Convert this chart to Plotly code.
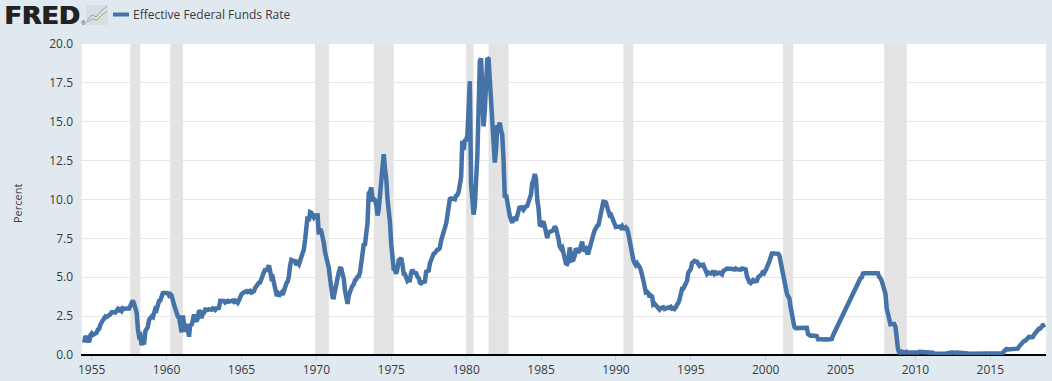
import plotly.graph_objects as go

START_YEAR = 1954
FIRST_MONTH = 7
fed_funds = [
 0.80,1.22,1.07,0.85,0.83,1.28,
 1.39,1.29,1.35,1.43,1.43,1.64,1.68,1.96,2.18,2.24,2.35,2.48,
 2.45,2.50,2.50,2.62,2.75,2.71,2.75,2.73,2.95,2.96,2.88,2.94,
 2.84,3.00,2.96,3.00,3.00,3.00,2.99,3.24,3.47,3.50,3.28,2.98,
 2.72,1.67,1.20,1.26,0.63,0.93,0.68,1.53,1.76,1.80,2.27,2.42,
 2.48,2.43,2.80,2.96,2.90,3.39,3.47,3.50,3.76,3.98,4.00,3.99,
 3.99,3.97,3.84,3.92,3.85,3.32,3.23,2.98,2.60,2.47,2.44,1.98,
 1.45,2.54,2.02,1.49,1.98,1.73,1.17,2.00,1.88,2.26,2.61,2.33,
 2.15,2.37,2.85,2.78,2.36,2.68,2.71,2.93,2.90,2.90,2.94,2.93,
 2.92,3.00,2.98,2.90,3.00,2.99,3.02,3.49,3.48,3.50,3.48,3.38,
 3.48,3.48,3.43,3.47,3.50,3.50,3.42,3.50,3.45,3.36,3.52,3.85,
 3.90,3.98,4.04,4.09,4.10,4.04,4.09,4.12,4.01,4.08,4.10,4.32,
 4.42,4.60,4.65,4.67,4.90,5.17,5.30,5.53,5.40,5.53,5.76,5.40,
 4.94,5.00,4.53,4.05,3.94,3.98,3.79,3.90,4.00,3.88,4.13,4.51,
 4.61,4.71,5.05,5.76,6.11,6.07,6.02,6.03,5.78,5.91,5.82,6.02,
 6.30,6.61,6.79,7.41,8.67,8.90,8.61,9.19,9.15,9.00,8.85,8.97,
 8.98,8.98,7.76,8.10,7.95,7.61,7.21,6.61,6.29,6.20,5.60,4.90,
 4.14,3.72,3.71,4.16,4.63,4.91,5.31,5.56,5.55,5.20,4.91,4.14,
 3.50,3.29,3.83,4.17,4.27,4.46,4.55,4.80,4.87,5.04,5.06,5.33,
 5.94,6.58,7.09,7.12,7.84,8.49,10.40,10.50,10.78,10.01,10.03,9.95,
 9.65,8.97,9.35,10.51,11.31,11.93,12.92,12.01,11.34,10.06,9.45,8.53,
 7.13,6.24,5.54,5.49,5.22,5.55,6.10,6.14,6.24,5.82,5.22,5.20,
 4.87,4.77,4.84,4.82,5.29,5.48,5.31,5.29,5.25,5.03,4.95,4.65,
 4.61,4.68,4.69,4.73,5.35,5.39,5.42,5.90,6.14,6.47,6.51,6.56,
 6.70,6.78,6.79,6.89,7.36,7.60,7.81,8.04,8.45,8.96,9.76,10.03,
 10.07,10.06,10.09,10.01,10.24,10.29,10.47,10.94,11.43,13.77,13.18,13.78,
 13.82,14.13,17.19,17.61,10.98,9.47,9.03,9.61,10.87,12.81,15.85,18.90,
 19.08,15.93,14.70,15.72,18.52,19.10,19.04,17.82,15.87,15.08,13.31,12.37,
 13.22,14.78,14.68,14.94,14.45,14.15,12.59,10.12,10.31,9.71,9.20,8.95,
 8.68,8.51,8.77,8.80,8.63,8.98,9.37,9.56,9.45,9.48,9.34,9.47,
 9.56,9.59,9.91,10.29,10.32,11.06,11.23,11.64,11.30,9.99,9.43,8.38,
 8.35,8.50,8.58,8.27,7.97,7.53,7.88,7.90,7.92,7.99,8.05,8.27,
 8.14,7.86,7.48,6.99,6.85,6.92,6.56,6.17,5.89,5.85,6.04,6.91,
 6.43,6.10,6.13,6.37,6.85,6.73,6.58,6.73,7.22,7.29,6.69,6.77,
 6.83,6.58,6.58,6.87,7.09,7.51,7.75,8.01,8.19,8.30,8.35,8.76,
 9.12,9.36,9.85,9.84,9.81,9.53,9.24,8.99,9.02,8.84,8.55,8.45,
 8.23,8.24,8.28,8.26,8.18,8.29,8.15,8.13,8.20,8.11,7.81,7.31,
 6.91,6.25,6.12,5.91,5.78,5.90,5.82,5.66,5.45,5.21,4.81,4.43,
 4.03,4.06,3.98,3.73,3.82,3.76,3.25,3.30,3.22,3.10,3.09,2.92,
 3.02,3.03,3.07,2.96,3.00,3.04,3.06,3.03,3.09,2.99,3.02,2.96,
 3.05,3.25,3.34,3.56,4.01,4.25,4.26,4.47,4.73,4.76,5.29,5.45,
 5.53,5.92,5.98,6.05,6.01,6.00,5.85,5.74,5.80,5.76,5.80,5.60,
 5.56,5.22,5.31,5.22,5.24,5.27,5.40,5.22,5.30,5.24,5.31,5.29,
 5.25,5.19,5.39,5.51,5.50,5.56,5.52,5.54,5.54,5.50,5.52,5.50,
 5.56,5.51,5.49,5.45,5.49,5.56,5.54,5.55,5.51,5.07,4.83,4.68,
 4.63,4.76,4.81,4.74,4.74,4.76,4.99,5.07,5.22,5.20,5.42,5.30,
 5.45,5.73,5.85,6.02,6.27,6.53,6.54,6.50,6.52,6.51,6.51,6.40,
 5.98,5.49,5.31,4.80,4.21,3.97,3.77,3.65,3.07,2.49,2.09,1.82,
 1.73,1.74,1.73,1.75,1.75,1.75,1.73,1.74,1.75,1.75,1.34,1.24,
 1.24,1.26,1.25,1.26,1.26,1.22,1.01,1.03,1.01,1.01,1.00,0.98,
 1.00,1.01,1.00,1.00,1.00,1.03,1.26,1.43,1.61,1.76,1.93,2.16,
 2.28,2.50,2.63,2.79,3.00,3.04,3.26,3.50,3.62,3.78,4.00,4.16,
 4.29,4.49,4.59,4.79,4.94,4.99,5.24,5.25,5.25,5.25,5.25,5.24,
 5.25,5.26,5.26,5.25,5.25,5.25,5.26,5.02,4.94,4.76,4.49,4.24,
 3.94,2.98,2.61,2.28,1.98,2.00,2.01,2.00,1.81,0.97,0.39,0.16,
 0.15,0.22,0.18,0.15,0.18,0.21,0.16,0.16,0.15,0.12,0.12,0.12,
 0.11,0.13,0.16,0.20,0.20,0.18,0.18,0.19,0.19,0.19,0.19,0.18,
 0.17,0.16,0.14,0.10,0.09,0.09,0.07,0.10,0.08,0.07,0.08,0.07,
 0.08,0.10,0.13,0.14,0.16,0.16,0.16,0.13,0.14,0.16,0.16,0.16,
 0.14,0.15,0.14,0.15,0.11,0.09,0.09,0.08,0.08,0.09,0.08,0.09,
 0.07,0.07,0.08,0.09,0.09,0.10,0.09,0.09,0.09,0.09,0.09,0.12,
 0.11,0.11,0.11,0.12,0.12,0.13,0.13,0.14,0.14,0.12,0.12,0.24,
 0.34,0.38,0.36,0.37,0.37,0.38,0.39,0.40,0.40,0.40,0.41,0.54,
 0.65,0.66,0.79,0.90,0.91,1.04,1.15,1.16,1.15,1.15,1.16,1.30,
 1.41,1.42,1.51,1.69,1.70,1.82,1.91,1.91,1.95,
]
recession_starts = ["1954-01-01","1957-08-01","1960-04-01","1969-12-01","1973-11-01","1980-01-01","1981-07-01","1990-07-01","2001-03-01","2007-12-01"]
recession_ends   = ["1954-05-01","1958-04-01","1961-02-01","1970-11-01","1975-03-01","1980-07-01","1982-11-01","1991-03-01","2001-11-01","2009-06-01"]
year_ticks = [str(y) for y in range(1955, 2020, 5)]
y_ticks = [0, 2.5, 5, 7.5, 10, 12.5, 15, 17.5, 20]
series_name = "Effective Federal Funds Rate"

dates = []
for i in range(len(fed_funds)):
    m = FIRST_MONTH - 1 + i
    dates.append(f"{START_YEAR + m // 12}-{m % 12 + 1:02d}-01")

BG = "#e1e9f0"
BLUE = "#4572a7"
TXT = "#3a3a3a"
FONT = "Open Sans"

fig = go.Figure(go.Scatter(x=dates, y=fed_funds, mode="lines", name=series_name,
                           line=dict(color=BLUE, width=4.5), showlegend=False, cliponaxis=False,
                           hovertemplate="%{x|%b %Y}: %{y}<extra></extra>"))

shapes = []
for s, e in zip(recession_starts, recession_ends):
    shapes.append(dict(type="rect", xref="x", yref="paper", x0=s, x1=e, y0=0, y1=1,
                       fillcolor="#e3e3e3", line_width=0, layer="below"))
def px(x): return (x-81)/965
def py(y): return (355-y)/311
# legend swatch
shapes.append(dict(type="line", xref="paper", yref="paper",
                   x0=px(113), x1=px(129), y0=py(14.5), y1=py(14.5),
                   line=dict(color=BLUE, width=4)))
# small logo icon
shapes.append(dict(type="rect", xref="paper", yref="paper", x0=px(86), x1=px(108), y0=py(25), y1=py(5),
                   fillcolor="#d9dfe0", line_width=0))
shapes.append(dict(type="path", xref="paper", yref="paper",
    path=f"M {px(87)} {py(20)} L {px(92)} {py(15)} L {px(96)} {py(17)} L {px(101)} {py(11)} L {px(107)} {py(6)}",
    line=dict(color="#8fa5bd", width=1)))
shapes.append(dict(type="path", xref="paper", yref="paper",
    path=f"M {px(87)} {py(22)} L {px(92)} {py(19)} L {px(97)} {py(20)} L {px(102)} {py(15)} L {px(107)} {py(11)}",
    line=dict(color="#9aae70", width=1)))

annotations = [
    dict(text="<b>FRED</b>", xref="paper", yref="paper", x=px(1.5), y=py(15.5), xanchor="left", yanchor="middle",
         showarrow=False, font=dict(family="DejaVu Sans", size=25.5, color="#222222", shadow="1px 0 0 #222222")),
    dict(text="®", xref="paper", yref="paper", x=px(79), y=py(23), xanchor="left", yanchor="middle",
         showarrow=False, font=dict(family=FONT, size=6, color="#444444")),
    dict(text=series_name, xref="paper", yref="paper", x=px(130.5), y=py(14.5), xanchor="left", yanchor="middle",
         showarrow=False, font=dict(family=FONT, size=12, color=TXT)),
    dict(text="Percent", xref="paper", yref="paper", x=px(17), y=py(204), xanchor="center", yanchor="middle",
         textangle=-90, showarrow=False, font=dict(family=FONT, size=11, color=TXT)),
]

fig.update_layout(
    width=1052, height=381, autosize=False,
    margin=dict(l=81, r=6, t=44, b=26),
    paper_bgcolor=BG, plot_bgcolor="#ffffff",
    font=dict(family=FONT, size=12, color=TXT),
    shapes=shapes, annotations=annotations,
    xaxis=dict(type="date", range=["1954-04-15", "2018-09-20"], automargin=False,
               tickmode="array", tickvals=[f"{y}-01-01" for y in year_ticks], ticktext=year_ticks,
               showgrid=False, zeroline=False, ticks="outside", ticklen=4, tickcolor="#c0d0e0", tickwidth=1,
               showline=False, tickfont=dict(size=12, color=TXT)),
    yaxis=dict(range=[0, 20], automargin=False, tickmode="array", tickvals=y_ticks,
               ticktext=[f"{v:.1f}" for v in y_ticks],
               gridcolor="#e6e6e6", gridwidth=1, zeroline=True, zerolinecolor="#000000", zerolinewidth=2,
               showline=False, ticks="", ticklabelstandoff=7),
)
fig.write_html("out.html", config={"displayModeBar": False},
               post_script="document.body.style.margin='0';document.body.style.overflow='hidden';document.documentElement.style.background='#e1e9f0';")
